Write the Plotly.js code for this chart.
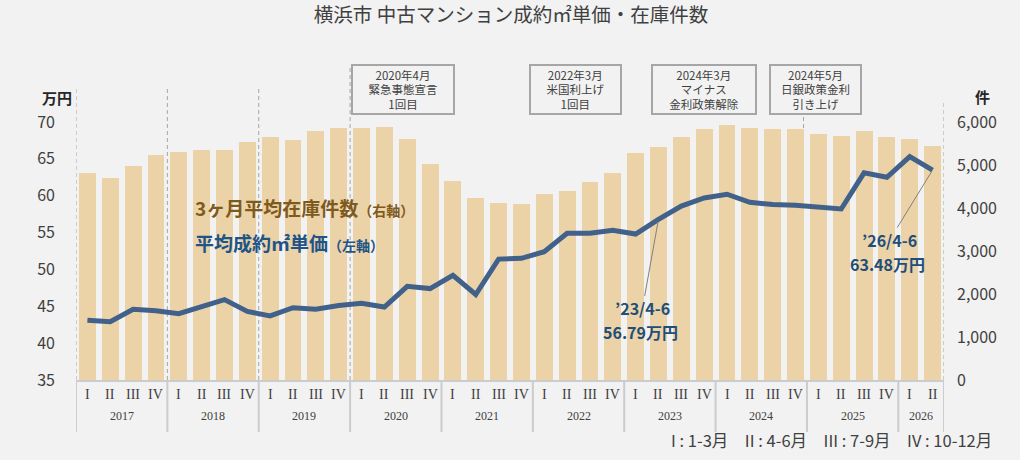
<!DOCTYPE html>
<html>
<head>
<meta charset="utf-8">
<script src="https://cdn.plot.ly/plotly-3.0.1.min.js"></script>
<style>
html,body{margin:0;padding:0;background:#f2f2f2;}
#chart{width:1020px;height:460px;}
</style>
</head>
<body>
<div id="chart"></div>
<script>
// ---- data ----
const years = ['2017','2018','2019','2020','2021','2022','2023','2024','2025','2026'];
const quartersPerYear = [4,4,4,4,4,4,4,4,4,2];
const quarterNames = ['I','II','III','IV'];
// 3ヶ月平均在庫件数 (right axis, 件)
const inventory = [
  4807, 4691, 4969, 5233,
  5302, 5349, 5349, 5535,
  5651, 5581, 5791, 5852,
  5852, 5884, 5605, 5023,
  4628, 4233, 4116, 4093,
  4326, 4395, 4605, 4814,
  5279, 5419, 5643, 5837,
  5930, 5852, 5837, 5837,
  5721, 5674, 5791, 5651,
  5605, 5442
];
// 平均成約㎡単価 (left axis, 万円)
const price = [
  43.1, 42.9, 44.6, 44.4,
  44.0, 45.0, 45.9, 44.3,
  43.7, 44.8, 44.6, 45.1,
  45.4, 44.9, 47.7, 47.4,
  49.2, 46.6, 51.4, 51.5,
  52.4, 54.9, 54.9, 55.3,
  54.8, 56.79, 58.6, 59.7,
  60.2, 59.1, 58.8, 58.7,
  58.5, 58.2, 63.1, 62.5,
  65.3, 63.48
];
const events = [
  {text:'2020年4月<br>緊急事態宣言<br>1回目', px:403, w:98},
  {text:'2022年3月<br>米国利上げ<br>1回目', px:575.5, w:87},
  {text:'2024年3月<br>マイナス<br>金利政策解除', px:704, w:100},
  {text:'2024年5月<br>日銀政策金利<br>引き上げ', px:815.5, w:87}
];

// ---- build category index ----
const quarterLabels = [];
const yearGroups = [];
let idx = 0;
years.forEach((y, k) => {
  const start = idx;
  for (let q = 0; q < quartersPerYear[k]; q++) { quarterLabels.push(quarterNames[q]); idx++; }
  yearGroups.push({year: y, start: start, end: idx - 1});
});
const xs = quarterLabels.map((_, i) => i);

// ---- geometry helpers (layout only) ----
const W = 1020, H = 460, L = 76, R = 76, T = 122, B = 80;
const PW = W - L - R, PH = H - T - B;
const px2paperX = p => (p - L) / PW;
const px2paperY = p => (H - B - p) / PH;

const FONT = 'Noto Sans CJK JP, Noto Sans, sans-serif';
const SERIF = 'Liberation Serif, DejaVu Serif, serif';

const traces = [
  {
    type: 'bar', x: xs, y: inventory, yaxis: 'y',
    marker: {color: '#ebd3a7'}, width: 0.74,
    hoverinfo: 'skip', showlegend: false
  },
  {
    type: 'scatter', mode: 'lines', x: xs, y: price, yaxis: 'y2',
    line: {color: '#41618b', width: 5},
    hoverinfo: 'skip', showlegend: false
  }
];

const shapes = [];
const annotations = [];

// dashed vertical guides
const dashed = [
  {x: -0.5, top: 88}, {x: 3.5, top: 88}, {x: 7.5, top: 88},
  {x: 11.5, top: 65}, {x: 31.35, top: 110}, {x: 37.5, top: 100}
];
dashed.forEach(d => shapes.push({
  type: 'line', xref: 'x', yref: 'paper', x0: d.x, x1: d.x,
  y0: 0, y1: px2paperY(d.top), layer: 'below',
  line: {color: '#a6a6a6', width: 1, dash: '4px,3px'}
}));

// year dividers under the axis
yearGroups.forEach((g, k) => {
  const xsList = k === 0 ? [g.start - 0.5, g.end + 0.5] : [g.end + 0.5];
  xsList.forEach(xv => shapes.push({
    type: 'line', xref: 'x', yref: 'paper', x0: xv, x1: xv,
    y0: 0, y1: px2paperY(432), line: {color: '#cccccc', width: 2}
  }));
  annotations.push({
    xref: 'x', yref: 'paper', x: (g.start + g.end) / 2, y: px2paperY(416),
    text: g.year, showarrow: false, xanchor: 'center', yanchor: 'middle',
    font: {family: SERIF, size: 12, color: '#404040'}
  });
});
quarterLabels.forEach((q, i) => annotations.push({
  xref: 'x', yref: 'paper', x: i, y: px2paperY(394),
  text: q, showarrow: false, xanchor: 'center', yanchor: 'middle',
  font: {family: SERIF, size: 14, color: '#404040'}
}));

// event boxes
events.forEach(e => annotations.push({
  xref: 'paper', yref: 'paper', x: px2paperX(e.px), y: px2paperY(89.5),
  text: e.text, showarrow: false, xanchor: 'center', yanchor: 'middle',
  width: e.w, height: 45, align: 'center', borderpad: 1,
  bordercolor: '#a6a6a6', borderwidth: 2, bgcolor: '#f2f2f2',
  font: {family: FONT, size: 11.5, color: '#404040'}
}));

// axis unit labels
annotations.push({xref: 'paper', yref: 'paper', x: px2paperX(57), y: px2paperY(97),
  text: '<b>万円</b>', showarrow: false, xanchor: 'center', yanchor: 'middle',
  font: {family: FONT, size: 15, color: '#262626'}});
annotations.push({xref: 'paper', yref: 'paper', x: px2paperX(982), y: px2paperY(96),
  text: '<b>件</b>', showarrow: false, xanchor: 'center', yanchor: 'middle',
  font: {family: FONT, size: 15, color: '#262626'}});

// series labels
annotations.push({xref: 'paper', yref: 'paper', x: px2paperX(193), y: px2paperY(207),
  text: '<b>3ヶ月平均在庫件数</b><b><span style="font-size:14px">（右軸）</span></b>',
  showarrow: false, xanchor: 'left', yanchor: 'middle',
  font: {family: FONT, size: 19, color: '#7f5a1c'}});
annotations.push({xref: 'paper', yref: 'paper', x: px2paperX(193), y: px2paperY(242),
  text: '<b>平均成約㎡単価</b><b><span style="font-size:14px">（左軸）</span></b>',
  showarrow: false, xanchor: 'left', yanchor: 'middle',
  font: {family: FONT, size: 19, color: '#1f5487'}});

// callouts: first line carries the leader, second line sits just below
const callouts = [
  {i: 25, line1: '’23/4-6', line2: '56.79万円', ax: -16, ay: 89},
  {i: 37, line1: '’26/4-6', line2: '63.48万円', ax: -43, ay: 70}
];
const CALL_FONT = {family: FONT, size: 16, color: '#1f4e79'};
callouts.forEach(c => {
  annotations.push({
    xref: 'x', yref: 'y2', x: xs[c.i], y: price[c.i],
    text: '<b>' + c.line1 + '</b>', showarrow: true, arrowhead: 0,
    arrowwidth: 1, arrowcolor: '#808080', ax: c.ax, ay: c.ay, standoff: 2,
    font: CALL_FONT, borderpad: 0
  });
  annotations.push({
    xref: 'x', yref: 'y2', x: xs[c.i], y: price[c.i],
    text: '<b>' + c.line2 + '</b>', showarrow: true, arrowcolor: 'rgba(0,0,0,0)',
    arrowwidth: 0.1, ax: c.ax - 2, ay: c.ay + 24,
    font: CALL_FONT, borderpad: 0
  });
});

// quarter legend
annotations.push({xref: 'paper', yref: 'paper', x: px2paperX(994), y: px2paperY(440),
  text: 'I : 1-3月　II : 4-6月　III : 7-9月　IV : 10-12月',
  showarrow: false, xanchor: 'right', yanchor: 'middle',
  font: {family: FONT, size: 16.5, color: '#404040'}});

const layout = {
  width: W, height: H,
  margin: {l: L, r: R, t: T, b: B, pad: 0},
  paper_bgcolor: '#f2f2f2', plot_bgcolor: 'rgba(0,0,0,0)',
  title: {text: '横浜市 中古マンション成約㎡単価・在庫件数',
    x: px2paperX(511), xref: 'paper', xanchor: 'center',
    y: 1 - 15 / H, yref: 'container', yanchor: 'middle',
    font: {family: FONT, size: 19.5, color: '#404040'}},
  showlegend: false,
  bargap: 0,
  xaxis: {range: [-0.5, 37.5], showticklabels: false, ticks: '', showgrid: false,
    zeroline: false, showline: true, linecolor: '#cccccc', linewidth: 2, fixedrange: true},
  yaxis: {side: 'right', range: [0, 6000], dtick: 1000, tickformat: ',',
    showgrid: false, zeroline: false, showline: false, ticks: '',
    ticklabelstandoff: 12,
    tickfont: {family: FONT, size: 16, color: '#404040'}},
  yaxis2: {side: 'left', overlaying: 'y', range: [35, 70], dtick: 5,
    showgrid: false, zeroline: false, showline: false, ticks: '',
    ticklabelstandoff: 20,
    tickfont: {family: FONT, size: 16, color: '#404040'}},
  shapes: shapes,
  annotations: annotations
};

Plotly.newPlot('chart', traces, layout, {displayModeBar: false, staticPlot: true});
</script>
</body>
</html>
